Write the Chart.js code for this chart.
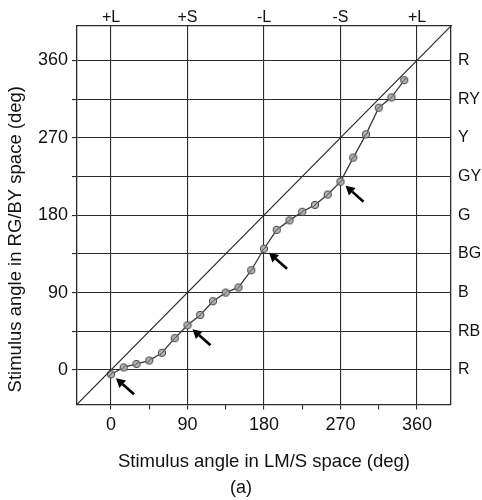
<!DOCTYPE html>
<html>
  <head>
    <script src="https://cdn.jsdelivr.net/npm/chart.js@4.4.1/dist/chart.umd.min.js"></script>
    <style>
      body { margin: 0; background: #fff; }
      #wrap { width: 482px; height: 500px; }
    </style>
  </head>
  <body>
    <div id="wrap"><canvas id="canvas"></canvas></div>
    <script>
      // stimulus angle in LM/S space (deg)
      const lmsAngle = [0, 15, 30, 45, 60, 75, 90, 105, 120, 135, 150, 165,
        180, 195, 210, 225, 240, 255, 270, 285, 300, 315, 330, 345];
      // measured angle in RG/BY space (deg)
      const rgbyAngle = [-5, 3, 7, 11, 20, 37, 52, 64, 80, 90, 96, 116,
        141, 163, 174, 184, 192, 204, 219, 247, 274, 305, 317, 337];
      // points marked with arrows
      const arrowAt = [0, 90, 180, 270];

      const tickValues = [0, 45, 90, 135, 180, 225, 270, 315, 360];
      const topLabels = ['+L', '+S', '-L', '-S', '+L'];
      const rightLabels = ['R', 'RB', 'B', 'BG', 'G', 'GY', 'Y', 'RY', 'R'];
      const axisRange = [-40, 400];
      const yTitle = 'Stimulus angle in RG/BY space (deg)';

      const ink = '#2b2b2b';
      const font = 'Liberation Sans, Arial, Helvetica, sans-serif';

      // small grey circle with a slash, like the original markers
      const marker = document.createElement('canvas');
      marker.width = 10;
      marker.height = 10;
      const m = marker.getContext('2d');
      m.beginPath();
      m.arc(5, 5, 3.7, 0, Math.PI * 2);
      m.fillStyle = '#b4b4b4';
      m.fill();
      m.lineWidth = 1;
      m.strokeStyle = '#444';
      m.stroke();
      m.beginPath();
      m.moveTo(2.8, 7.2);
      m.lineTo(7.2, 2.8);
      m.stroke();

      const setTicks = (vals) => (scale) => {
        scale.ticks = vals.map((v) => ({ value: v }));
      };

      const arrows = {
        id: 'arrows',
        afterDatasetsDraw(chart) {
          const { ctx, scales } = chart;
          ctx.save();
          ctx.strokeStyle = '#000';
          ctx.fillStyle = '#000';
          ctx.lineWidth = 2.6;
          arrowAt.forEach((a) => {
            const i = lmsAngle.indexOf(a);
            const px = scales.x.getPixelForValue(lmsAngle[i]);
            const py = scales.y.getPixelForValue(rgbyAngle[i]);
            const tx = px + 5, ty = py + 4;
            const sx = px + 23, sy = py + 20;
            const ang = Math.atan2(ty - sy, tx - sx);
            const hl = 9, hw = 5;
            const bx = tx - hl * Math.cos(ang), by = ty - hl * Math.sin(ang);
            ctx.beginPath();
            ctx.moveTo(sx, sy);
            ctx.lineTo(bx, by);
            ctx.stroke();
            ctx.beginPath();
            ctx.moveTo(tx, ty);
            ctx.lineTo(bx + hw * Math.sin(ang), by - hw * Math.cos(ang));
            ctx.lineTo(bx - hw * Math.sin(ang), by + hw * Math.cos(ang));
            ctx.closePath();
            ctx.fill();
          });
          ctx.restore();
        },
      };

      // y title sits a little below the middle of the axis in the original
      const sideTitle = {
        id: 'sideTitle',
        afterDraw(chart) {
          const { ctx, chartArea } = chart;
          ctx.save();
          ctx.translate(16, chartArea.bottom - 12);
          ctx.rotate(-Math.PI / 2);
          ctx.font = '18.5px ' + font;
          ctx.fillStyle = '#111';
          ctx.textAlign = 'left';
          ctx.textBaseline = 'middle';
          ctx.fillText(yTitle, 0, 0);
          ctx.restore();
        },
      };

      new Chart(document.getElementById('canvas').getContext('2d'), {
        type: 'scatter',
        data: {
          datasets: [
            {
              type: 'line',
              data: axisRange.map((v) => ({ x: v, y: v })),
              borderColor: ink,
              borderWidth: 1.2,
              pointRadius: 0,
              fill: false,
            },
            {
              type: 'line',
              data: lmsAngle.map((v, i) => ({ x: v, y: rgbyAngle[i] })),
              borderColor: '#3a3a3a',
              borderWidth: 1.3,
              pointStyle: marker,
              pointRadius: 5,
              fill: false,
            },
          ],
        },
        options: {
          responsive: true,
          maintainAspectRatio: false,
          animation: false,
          layout: { padding: 0 },
          plugins: {
            legend: { display: false },
            tooltip: { enabled: false },
            subtitle: {
              display: true,
              text: '(a)',
              position: 'bottom',
              color: '#111',
              font: { family: font, size: 18 },
              padding: { top: 0, bottom: 1 },
            },
          },
          scales: {
            x: {
              type: 'linear',
              position: 'bottom',
              min: axisRange[0],
              max: axisRange[1],
              afterBuildTicks: setTicks(tickValues),
              afterFit: (s) => { s.height = 73; },
              grid: {
                color: (c) => (c.tick && c.tick.value % 90 === 0 ? ink : 'rgba(0,0,0,0)'),
                tickColor: ink,
                tickLength: 5,
                lineWidth: 1.1,
              },
              border: { color: ink, width: 1.3 },
              ticks: {
                color: '#111',
                font: { family: font, size: 18 },
                padding: 5,
                maxRotation: 0,
                autoSkip: false,
                callback: (v) => (v % 90 === 0 ? String(v) : ''),
              },
              title: {
                display: true,
                text: 'Stimulus angle in LM/S space (deg)',
                color: '#111',
                font: { family: font, size: 18.5 },
                padding: { top: 0, bottom: 4 },
              },
            },
            xTop: {
              type: 'linear',
              position: 'top',
              min: axisRange[0],
              max: axisRange[1],
              afterBuildTicks: setTicks(tickValues.filter((v) => v % 90 === 0)),
              afterFit: (s) => { s.height = 26; },
              grid: { drawOnChartArea: false, drawTicks: false, color: 'rgba(0,0,0,0)' },
              border: { color: ink, width: 1.3 },
              ticks: {
                color: '#111',
                font: { family: font, size: 16 },
                padding: -1,
                maxRotation: 0,
                autoSkip: false,
                callback: (v) => topLabels[v / 90],
              },
            },
            y: {
              type: 'linear',
              position: 'left',
              min: axisRange[0],
              max: axisRange[1],
              afterBuildTicks: setTicks(tickValues),
              afterFit: (s) => { s.width = 77; },
              grid: {
                color: ink,
                tickColor: ink,
                tickLength: 5,
                lineWidth: 1.1,
              },
              border: { color: ink, width: 1.3 },
              ticks: {
                color: '#111',
                font: { family: font, size: 18 },
                padding: 4,
                autoSkip: false,
                callback: (v) => (v % 90 === 0 ? String(v) : ''),
              },
            },
            yRight: {
              type: 'linear',
              position: 'right',
              min: axisRange[0],
              max: axisRange[1],
              afterBuildTicks: setTicks(tickValues),
              afterFit: (s) => { s.width = 31; },
              grid: { drawOnChartArea: false, drawTicks: false, color: 'rgba(0,0,0,0)' },
              border: { color: ink, width: 1.3 },
              ticks: {
                color: '#111',
                font: { family: font, size: 16 },
                padding: 7,
                autoSkip: false,
                callback: (v) => rightLabels[v / 45],
              },
            },
          },
        },
        plugins: [arrows, sideTitle],
      });
    </script>
  </body>
</html>
